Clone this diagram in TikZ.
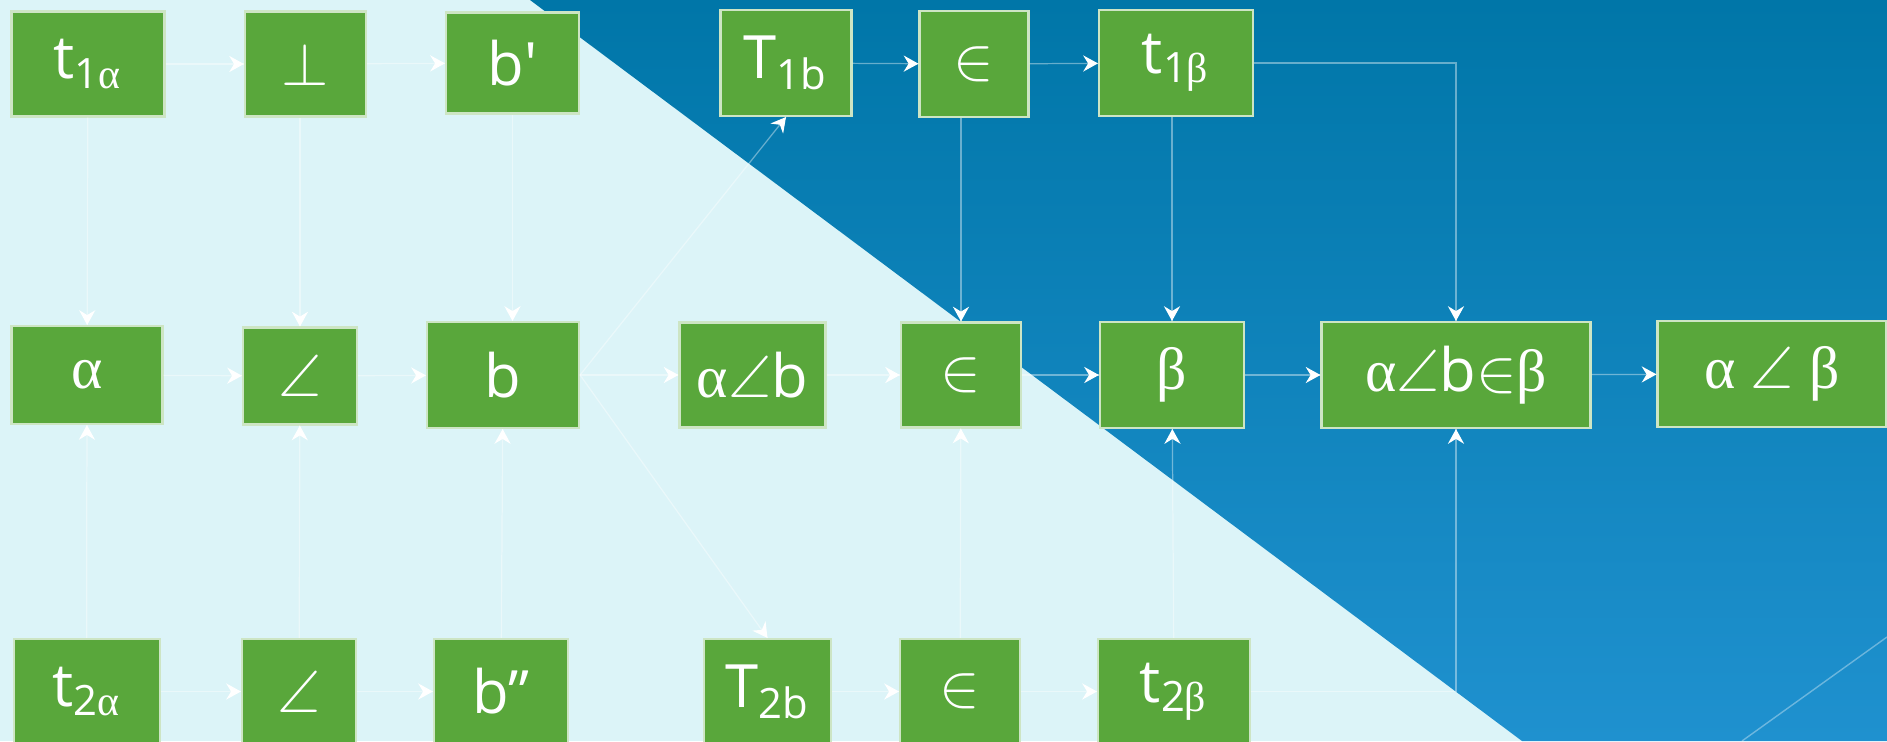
\documentclass[tikz,border=0pt]{standalone}
\usepackage{amsmath,amssymb}
\usepackage{fontspec}
\setmainfont{Open Sans}
\newfontfamily\grk{Liberation Serif}
\usetikzlibrary{arrows.meta}
\definecolor{boxgreen}{RGB}{89,167,59}
\definecolor{paleback}{RGB}{220,244,248}
\definecolor{deeptop}{RGB}{0,118,168}
\definecolor{deepbot}{RGB}{31,145,207}

\begin{document}
\begin{tikzpicture}[font=\fontsize{17}{20}\selectfont,
  box/.style={fill=boxgreen,draw=white!70!boxgreen,line width=0.6pt,text=white,inner sep=0pt,minimum height=1.05cm},
  link/.style={draw=white,draw opacity=0.4,line width=0.35pt,
    postaction={draw=white,draw opacity=1,dash pattern=on 0pt off 200cm,-{Stealth[length=4.2pt,width=4.6pt,inset=1.4pt]}}}]
\useasboundingbox (0,0) rectangle (18.87,7.41);
\fill[paleback] (0,0) rectangle (18.87,7.41);
\shade[top color=deeptop,bottom color=deepbot] (5.30,7.41) -- (18.87,7.41) -- (18.87,0) -- (15.22,0) -- cycle;
\draw[white,opacity=0.35,line width=0.4pt] (17.42,0) -- (18.87,1.04);

\node[box,minimum width=1.53cm] (ta1) at (0.88,6.77) {t\textsubscript{1{\grk α}}};
\node[box,minimum width=1.21cm] (perpA) at (3.055,6.77) {$\perp$};
\node[box,minimum width=1.33cm,minimum height=1.01cm] (bp) at (5.125,6.78) {b\textquotesingle};
\node[box,minimum width=1.31cm,minimum height=1.06cm] (Tb1) at (7.86,6.78) {T\textsubscript{1b}};
\node[box,minimum width=1.09cm,minimum height=1.06cm] (inA) at (9.74,6.77) {$\in$};
\node[box,minimum width=1.54cm,minimum height=1.06cm] (tb1) at (11.76,6.78) {t\textsubscript{1{\grk β}}};

\node[box,minimum width=1.51cm,minimum height=0.98cm] (alpha) at (0.87,3.66) {{\grk α}};
\node[box,minimum width=1.14cm,minimum height=0.97cm] (angA) at (3.00,3.65) {$\angle$};
\node[box,minimum width=1.52cm,minimum height=1.06cm] (b) at (5.03,3.66) {b};
\node[box,minimum width=1.46cm] (ab) at (7.525,3.66) {{\grk α}$\angle$b};
\node[box,minimum width=1.20cm] (inB) at (9.61,3.66) {$\in$};
\node[box,minimum width=1.44cm,minimum height=1.06cm] (beta) at (11.72,3.66) {{\grk β}};
\node[box,minimum width=2.69cm,minimum height=1.06cm] (abeb) at (14.56,3.66) {{\grk α}$\angle$b$\in${\grk β}};
\node[box,minimum width=2.29cm,minimum height=1.06cm] (aab) at (17.72,3.67) {{\grk α} $\angle$ {\grk β}};

\node[box,minimum width=1.46cm] (ta2) at (0.866,0.495) {t\textsubscript{2{\grk α}}};
\node[box,minimum width=1.14cm] (angB) at (2.99,0.495) {$\angle$};
\node[box,minimum width=1.34cm] (bpp) at (5.01,0.495) {b''};
\node[box,minimum width=1.27cm] (Tb2) at (7.675,0.495) {T\textsubscript{2b}};
\node[box,minimum width=1.20cm] (inC) at (9.60,0.495) {$\in$};
\node[box,minimum width=1.52cm] (tb2) at (11.74,0.495) {t\textsubscript{2{\grk β}}};

\draw[link] (ta1) -- (perpA);
\draw[link] (perpA) -- (bp);
\draw[link] (Tb1) -- (inA);
\draw[link] (inA) -- (tb1);
\draw[link] (tb1) -| (abeb);
\draw[link] (ta1) -- (alpha);
\draw[link] (angA |- perpA.south) -- (angA);
\draw[link] (bp.south) -- (bp.south |- b.north);
\draw[link] (inB |- inA.south) -- (inB);
\draw[link] (beta |- tb1.south) -- (beta);
\draw[link] (alpha) -- (angA);
\draw[link] (angA) -- (b);
\draw[link] (b) -- (ab);
\draw[link] (ab) -- (inB);
\draw[link] (inB) -- (beta);
\draw[link] (beta) -- (abeb);
\draw[link] (abeb) -- (aab);
\draw[link] (b.east) -- (Tb1.south);
\draw[link] (b.east) -- (Tb2.north);
\draw[link] (ta2) -- (alpha);
\draw[link] (angB) -- (angA);
\draw[link] (bpp) -- (b);
\draw[link] (inC) -- (inB);
\draw[link] (tb2) -- (beta);
\draw[link] (ta2) -- (angB);
\draw[link] (angB) -- (bpp);
\draw[link] (Tb2) -- (inC);
\draw[link] (inC) -- (tb2);
\draw[link] (tb2) -| (abeb);
\end{tikzpicture}
\end{document}
